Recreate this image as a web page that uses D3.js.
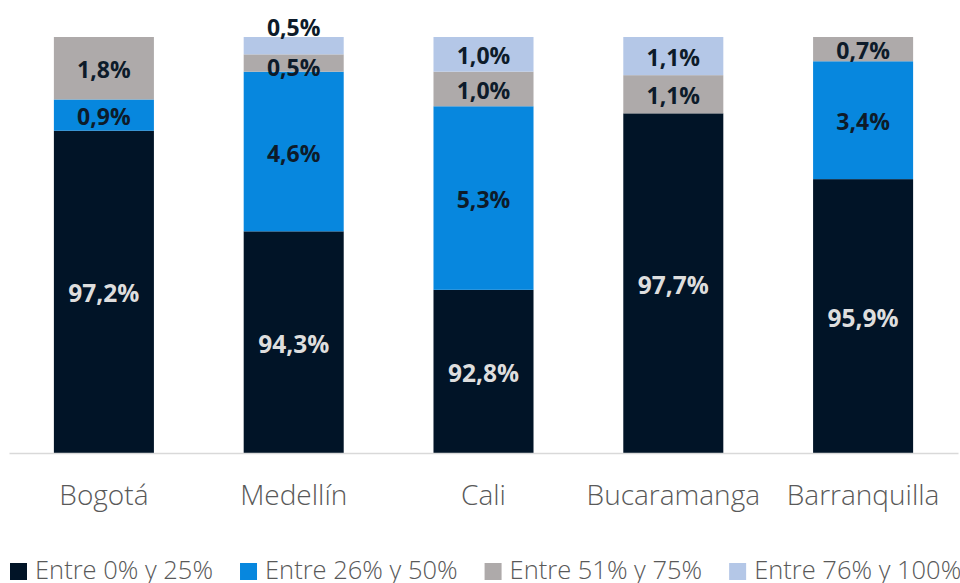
<!DOCTYPE html>
<html>
<head>
<meta charset="utf-8">
<script src="https://cdn.jsdelivr.net/npm/d3@7"></script>
<style>
	body { margin: 0; background: #fff; }
	svg { display: block; }
	.cat { font-family: "Open Sans", sans-serif; font-weight: 300; font-size: 28px; fill: #595959; }
	.legend text { font-family: "Open Sans", sans-serif; font-weight: 300; font-size: 25.5px; fill: #595959; }
	.val { font-family: "Open Sans", sans-serif; font-weight: 700; font-size: 23px; }
	.val.dark { font-size: 24.5px; }
</style>
</head>
<body>
<div id="chart"></div>
<script>
"use strict";

const width = 960, height = 583;

//  Data
const cities = ['Bogotá', 'Medellín', 'Cali', 'Bucaramanga', 'Barranquilla'];
const seriesNames = ['Entre 0% y 25%', 'Entre 26% y 50%', 'Entre 51% y 75%', 'Entre 76% y 100%'];
const range0to25 = [97.2, 94.3, 92.8, 97.7, 95.9];
const range26to50 = [0.9, 4.6, 5.3, 0, 3.4];
const range51to75 = [1.8, 0.5, 1.0, 1.1, 0.7];
const range76to100 = [0, 0.5, 1.0, 1.1, 0];
const colors = ['#011427', '#0787DE', '#AEAAAA', '#B4C7E7'];
const textColors = ['#dedede', '#0d1b2a', '#0d1b2a', '#0d1b2a'];

const rows = cities.map((city, i) => ({
	city: city,
	[seriesNames[0]]: range0to25[i],
	[seriesNames[1]]: range26to50[i],
	[seriesNames[2]]: range51to75[i],
	[seriesNames[3]]: range76to100[i],
}));

const stacked = d3.stack()
	.keys(seriesNames)
	.offset(d3.stackOffsetExpand)(rows);

//  Scales
const x = d3.scaleBand()
	.domain(cities)
	.range([9, 958])
	.paddingInner(0.473)
	.paddingOuter(0.2365);

const y = d3.scaleLinear()
	.domain([0.88, 1])
	.range([453, 37])
	.clamp(true);

const color = d3.scaleOrdinal().domain(seriesNames).range(colors);
const textColor = d3.scaleOrdinal().domain(seriesNames).range(textColors);

const fmt = v => d3.format('.1f')(v).replace('.', ',') + '%';

//  SVG
const svg = d3.select('#chart').append('svg')
	.attr('width', width)
	.attr('height', height);

const layer = svg.selectAll('.layer')
	.data(stacked)
	.join('g')
	.classed('layer', true)
	.attr('fill', s => color(s.key));

layer.selectAll('rect')
	.data(s => s.filter(d => d.data[s.key] > 0))
	.join('rect')
		.attr('x', d => x(d.data.city))
		.attr('width', x.bandwidth())
		.attr('y', d => y(d[1]))
		.attr('height', d => y(d[0]) - y(d[1]));

// axis baseline
svg.append('g')
	.attr('transform', `translate(0, ${y(0.88)})`)
	.call(d3.axisBottom(x).tickSize(0).tickSizeOuter(0))
	.call(g => g.select('.domain').attr('stroke', '#d9d9d9').attr('stroke-width', 1.5))
	.call(g => g.selectAll('.tick text')
		.attr('class', 'cat')
		.attr('font-family', null).attr('font-size', null).attr('fill', null)
		.attr('y', 52).attr('dy', 0));

// value labels
stacked.forEach((s, si) => {
	svg.append('g').selectAll('text')
		.data(s.filter(d => d.data[s.key] > 0))
		.join('text')
			.attr('class', si === 0 ? 'val dark' : 'val')
			.attr('text-anchor', 'middle')
			.attr('dominant-baseline', 'central')
			.attr('fill', textColor(s.key))
			.attr('x', d => x(d.data.city) + x.bandwidth() / 2)
			.attr('y', d => {
				const top = y(d[1]), bottom = y(d[0]);
				if (si === stacked.length - 1 && bottom - top < 20)
					return top - 10;
				if (bottom - top < 20)
					return bottom - 5;
				return (top + bottom) / 2 + 1;
			})
			.text(d => fmt(d.data[s.key]));
});

// legend
const legend = svg.append('g').classed('legend', true);
let lx = 10;
seriesNames.forEach(name => {
	const item = legend.append('g').attr('transform', `translate(${lx}, 579)`);
	item.append('rect')
		.attr('x', 0).attr('y', -16)
		.attr('width', 17).attr('height', 17)
		.attr('fill', color(name));
	const t = item.append('text')
		.attr('x', 25)
		.text(name);
	lx += 25 + t.node().getComputedTextLength() + 27;
});
</script>
</body>
</html>
